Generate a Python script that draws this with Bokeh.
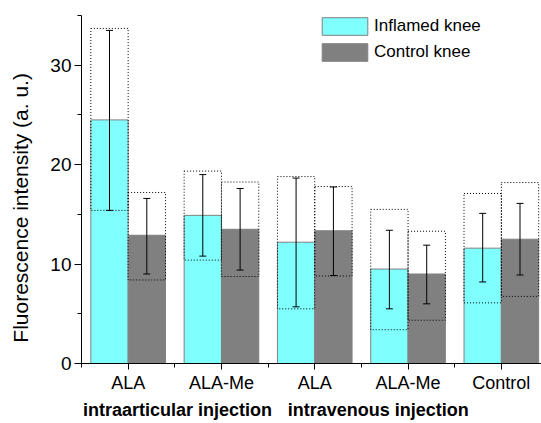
import numpy as np
from bokeh.plotting import figure
from bokeh.models import (Range1d, FixedTicker, ColumnDataSource, Whisker, TeeHead,
                          LinearAxis, Legend, LegendItem)
from bokeh.embed import file_html
from bokeh.resources import INLINE

# ---- data ----
categories = ["ALA", "ALA-Me", "ALA", "ALA-Me", "Control"]
series_names = ["Inflamed knee", "Control knee"]
y_ticks = [0, 10, 20, 30]

inflamed_mean = [24.5, 14.9, 12.2, 9.5, 11.6]
inflamed_err_lo = [15.4, 10.8, 5.7, 5.5, 8.2]
inflamed_err_hi = [33.5, 19.0, 18.65, 13.4, 15.1]
inflamed_box_lo = [15.4, 10.4, 5.5, 3.4, 6.1]
inflamed_box_hi = [33.7, 19.35, 18.8, 15.5, 17.1]

control_mean = [12.9, 13.5, 13.35, 9.0, 12.5]
control_err_lo = [9.0, 9.4, 8.85, 6.0, 8.9]
control_err_hi = [16.6, 17.6, 17.75, 11.9, 16.1]
control_box_lo = [8.4, 8.75, 8.8, 4.35, 6.75]
control_box_hi = [17.2, 18.25, 17.8, 13.3, 18.2]

group_labels = ["intraarticular injection", "intravenous injection"]
y_title = "Fluorescence intensity (a. u.)"

FONT = "Liberation Sans"
CYAN = "#80FFFF"
GREY = "#808080"
BW = 0.4

p = figure(width=541, height=423, output_backend="svg", toolbar_location=None,
           x_range=Range1d(0.5, 0.5 + 460 / 93.3), y_range=Range1d(0, 35),
           min_border_left=81, min_border_right=0, min_border_top=15, min_border_bottom=60)
p.outline_line_color = None
p.xgrid.visible = False
p.ygrid.visible = False
p.background_fill_color = "white"
p.border_fill_color = "white"

g = np.arange(1, len(categories) + 1, dtype=float)
xi = g - BW / 2
xc = g + BW / 2

src_i = ColumnDataSource(dict(x=xi, top=inflamed_mean, lo=inflamed_err_lo, hi=inflamed_err_hi,
                              blo=inflamed_box_lo, bhi=inflamed_box_hi,
                              left=xi - BW / 2, right=xi + BW / 2))
src_c = ColumnDataSource(dict(x=xc, top=control_mean, lo=control_err_lo, hi=control_err_hi,
                              blo=control_box_lo, bhi=control_box_hi,
                              left=xc - BW / 2, right=xc + BW / 2))

r_i = p.vbar(x="x", top="top", bottom=0, width=BW, source=src_i,
             fill_color=CYAN, line_color=GREY, line_width=1)
r_c = p.vbar(x="x", top="top", bottom=0, width=BW, source=src_c,
             fill_color=GREY, line_color=GREY, line_width=1)

for src in (src_i, src_c):
    p.quad(left="left", right="right", bottom="blo", top="bhi", source=src,
           fill_color=None, line_color="black", line_width=1, line_dash="1 2")
    w = Whisker(base="x", lower="lo", upper="hi", source=src, level="overlay",
                line_color="black", line_width=1,
                upper_head=TeeHead(size=7, line_color="black", line_width=1),
                lower_head=TeeHead(size=7, line_color="black", line_width=1))
    p.add_layout(w)

# axes
ya = p.yaxis[0]
ya.ticker = FixedTicker(ticks=y_ticks, minor_ticks=[5, 15, 25, 35])
ya.major_tick_out = 7
ya.major_tick_in = 0
ya.minor_tick_out = 4
ya.minor_tick_in = 0
ya.major_label_text_font = FONT
ya.major_label_text_font_size = "19px"
ya.major_label_text_color = "black"
ya.major_label_standoff = 3
ya.axis_line_color = "black"
ya.major_tick_line_color = "black"
ya.minor_tick_line_color = "black"

xa = p.xaxis[0]
xa.ticker = FixedTicker(ticks=list(g), minor_ticks=list(np.arange(0.5, len(categories) + 1, 1.0)))
xa.major_label_overrides = {int(v): c for v, c in zip(g, categories)}
xa.major_tick_out = 6
xa.major_tick_in = 0
xa.minor_tick_out = 4
xa.minor_tick_in = 0
xa.major_label_text_font = FONT
xa.major_label_text_font_size = "18px"
xa.major_label_text_color = "black"
xa.major_label_standoff = 3
xa.axis_line_color = "black"

# second bottom axis carrying the injection-route labels
group_pos = [1.53, 3.68]
xa2 = LinearAxis(ticker=FixedTicker(ticks=group_pos, minor_ticks=[]),
                 major_label_overrides={gp: t for gp, t in zip(group_pos, group_labels)},
                 axis_line_color=None, major_tick_line_color=None, minor_tick_line_color=None,
                 major_tick_out=0, major_tick_in=0, major_label_standoff=4,
                 major_label_text_font=FONT, major_label_text_font_size="18px",
                 major_label_text_font_style="bold", major_label_text_color="black")
p.add_layout(xa2, "below")

# second left axis carrying the y title
ytitle_pos = 15.65
ya2 = LinearAxis(ticker=FixedTicker(ticks=[ytitle_pos], minor_ticks=[]),
                 major_label_overrides={ytitle_pos: y_title},
                 major_label_orientation="vertical",
                 axis_line_color=None, major_tick_line_color=None, minor_tick_line_color=None,
                 major_tick_out=0, major_tick_in=0, major_label_standoff=15,
                 major_label_text_font=FONT, major_label_text_font_size="21px",
                 major_label_text_color="black")
p.add_layout(ya2, "left")

legend = Legend(items=[LegendItem(label=series_names[0], renderers=[r_i]),
                       LegendItem(label=series_names[1], renderers=[r_c])],
                location=(235, 300), orientation="vertical",
                glyph_width=57, glyph_height=22, label_standoff=1, spacing=4,
                padding=0, margin=0, border_line_color=None, background_fill_alpha=0,
                label_text_font=FONT, label_text_font_size="17px", label_text_color="black",
                label_height=22)
p.add_layout(legend, "center")

open("out.html", "w").write(file_html(p, INLINE))
